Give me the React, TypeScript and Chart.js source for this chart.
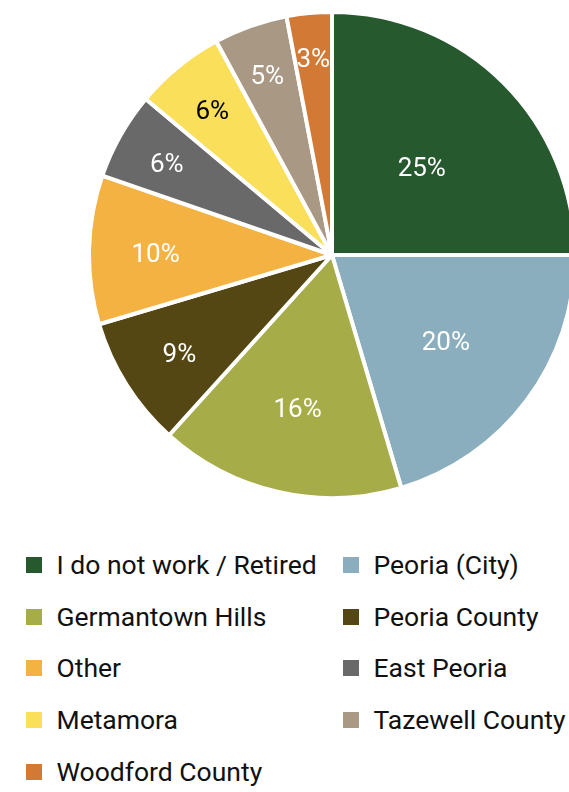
import React, { useEffect, useRef } from "react";
import { Chart, registerables } from "chart.js";

Chart.register(...registerables);

const categories = [
  "I do not work / Retired",
  "Peoria (City)",
  "Germantown Hills",
  "Peoria County",
  "Other",
  "East Peoria",
  "Metamora",
  "Tazewell County",
  "Woodford County",
];
// shares in percent
const values = [25.0, 20.4, 16.3, 8.7, 9.9, 5.8, 6.0, 4.9, 3.0];
const colors = [
  "#27592E",
  "#8AAEBE",
  "#A6AD48",
  "#554713",
  "#F4B242",
  "#696969",
  "#F9DF5A",
  "#A89884",
  "#D27A35",
];

function luminance(hex: string) {
  const n = parseInt(hex.slice(1), 16);
  const r = (n >> 16) & 255, g = (n >> 8) & 255, b = n & 255;
  return (0.299 * r + 0.587 * g + 0.114 * b) / 255;
}

const FONT = "Roboto, 'Noto Sans', sans-serif";

const labelPlugin = {
  id: "sliceLabels",
  afterDatasetsDraw(chart: any) {
    const ctx = chart.ctx;
    const meta = chart.getDatasetMeta(0);
    const total = values.reduce((a, b) => a + b, 0);
    ctx.save();
    ctx.font = `26px ${FONT}`;
    ctx.textAlign = "center";
    ctx.textBaseline = "middle";
    meta.data.forEach((arc: any, i: number) => {
      const { x, y, startAngle, endAngle, outerRadius } = arc.getProps(
        ["x", "y", "startAngle", "endAngle", "outerRadius"],
        true
      );
      const mid = (startAngle + endAngle) / 2;
      const p = values[i] / total;
      const r = outerRadius * (0.86 - 1.35 * p);
      ctx.fillStyle = luminance(colors[i]) > 0.75 ? "#000000" : "#FFFFFF";
      ctx.fillText(
        `${Math.round(p * 100)}%`,
        x + Math.cos(mid) * r,
        y + Math.sin(mid) * r + 4
      );
    });
    ctx.restore();
  },
};

export default function App() {
  const ref = useRef<HTMLCanvasElement | null>(null);
  useEffect(() => {
    if (!ref.current) return;
    const chart = new Chart(ref.current, {
      type: "pie",
      data: {
        labels: categories,
        datasets: [
          {
            data: values,
            backgroundColor: colors,
            borderColor: "#FFFFFF",
            borderWidth: 4,
            hoverOffset: 0,
          },
        ],
      },
      options: {
        responsive: false,
        maintainAspectRatio: false,
        animation: false,
        layout: { padding: 0 },
        plugins: {
          legend: { display: false },
          tooltip: { enabled: false },
        },
      },
      plugins: [labelPlugin],
    });
    return () => chart.destroy();
  }, []);

  return (
    <div
      style={{
        position: "absolute",
        left: 0,
        top: 0,
        width: 569,
        height: 792,
        overflow: "hidden",
        background: "#FFFFFF",
        fontFamily: FONT,
      }}
    >
      <canvas
        ref={ref}
        width={490}
        height={490}
        style={{ position: "absolute", left: 87, top: 10, width: 490, height: 490 }}
      />
      <div
        style={{
          position: "absolute",
          left: 26,
          top: 539,
          display: "grid",
          gridTemplateColumns: "317px auto",
          gridAutoRows: "51.75px",
        }}
      >
        {categories.map((c, i) => (
          <div key={c} style={{ display: "flex", alignItems: "center", whiteSpace: "nowrap" }}>
            <span
              style={{
                display: "inline-block",
                width: 16,
                height: 16,
                background: colors[i],
                marginRight: 14.5,
                flex: "none",
              }}
            />
            <span style={{ fontSize: 26.5, color: "#111111", lineHeight: "30px" }}>{c}</span>
          </div>
        ))}
      </div>
    </div>
  );
}
